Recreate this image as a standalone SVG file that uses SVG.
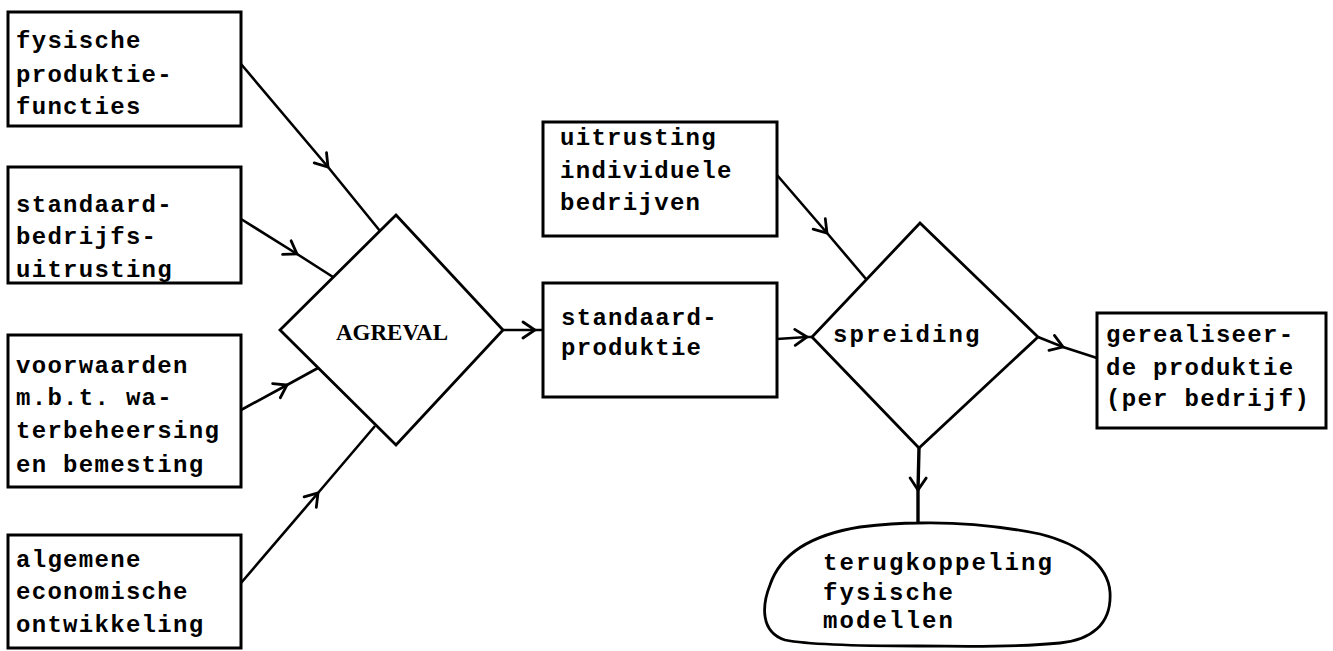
<svg xmlns="http://www.w3.org/2000/svg" width="1333" height="651" viewBox="0 0 1333 651">
<defs>
<style>
.box{fill:#fff;stroke:#000;stroke-width:3}
.shape{fill:#fff;stroke:#000;stroke-width:2.8;stroke-linejoin:miter}
.t{font-family:"Liberation Mono","Courier New",monospace;font-size:24px;font-weight:bold;letter-spacing:1.3px;fill:#000}
.tb{font-family:"Liberation Mono","Courier New",monospace;font-size:24px;font-weight:bold;letter-spacing:2.1px;fill:#000}
.serif{font-family:"Liberation Serif","Times New Roman",serif;font-size:23px;font-weight:bold;fill:#000}
.conn{fill:none;stroke:#000;stroke-width:2.6;marker-mid:url(#arr)}
</style>
<marker id="arr" viewBox="-15 -10 17 20" refX="0" refY="0" markerWidth="17" markerHeight="20" markerUnits="userSpaceOnUse" orient="auto">
<path d="M -12 -8 L 0 0 L -12 8" fill="none" stroke="#000" stroke-width="2.8" stroke-linecap="round"/>
</marker>
</defs>
<rect width="1333" height="651" fill="#fff"/>

<g id="connectors">
<polyline class="conn" points="241,64 328,167 380,231"/>
<polyline class="conn" points="241,219 297,254 333,277"/>
<polyline class="conn" points="241,410 287,385 318,368"/>
<polyline class="conn" points="241,583 318,493 375,426"/>
<polyline class="conn" points="503,330 535,330 543,330"/>
<polyline class="conn" points="777,175 827,233 866,279"/>
<polyline class="conn" points="777,339 807,337 812,337"/>
<polyline class="conn" points="1038,337 1063,347 1097,358"/>
<polyline class="conn" style="stroke-width:3.4" points="919,448 918,490 918,523"/>
</g>

<g id="fysische-produktiefuncties">
<rect class="box" x="8" y="12" width="233" height="114"/>
<text class="t" x="16" y="48">fysische</text>
<text class="t" x="16" y="82">produktie-</text>
<text class="t" x="16" y="114">functies</text>
</g>

<g id="standaard-bedrijfsuitrusting">
<rect class="box" x="8" y="167" width="233" height="116"/>
<text class="t" x="16" y="212">standaard-</text>
<text class="t" x="16" y="244">bedrijfs-</text>
<text class="t" x="16" y="277">uitrusting</text>
</g>

<g id="voorwaarden">
<rect class="box" x="8" y="335" width="233" height="152"/>
<text class="t" x="16" y="373">voorwaarden</text>
<text class="t" x="16" y="405">m.b.t. wa-</text>
<text class="t" x="16" y="438">terbeheersing</text>
<text class="t" x="16" y="472">en bemesting</text>
</g>

<g id="algemene-economische-ontwikkeling">
<rect class="box" x="8" y="535" width="233" height="113"/>
<text class="t" x="16" y="567">algemene</text>
<text class="t" x="16" y="599">economische</text>
<text class="t" x="16" y="632">ontwikkeling</text>
</g>

<g id="agreval">
<polygon class="shape" points="396,215 503,330 396,445 280,330"/>
<text class="serif" x="336" y="340">AGREVAL</text>
</g>

<g id="uitrusting-individuele-bedrijven">
<rect class="box" x="543" y="122" width="234" height="114"/>
<text class="t" x="560" y="145">uitrusting</text>
<text class="t" x="560" y="178">individuele</text>
<text class="t" x="560" y="210">bedrijven</text>
</g>

<g id="standaard-produktie">
<rect class="box" x="543" y="283" width="234" height="114"/>
<text class="t" x="561" y="325">standaard-</text>
<text class="t" x="561" y="355">produktie</text>
</g>

<g id="spreiding">
<polygon class="shape" points="920,223 1038,337 919,448 812,337"/>
<text class="tb" x="833" y="342">spreiding</text>
</g>

<g id="gerealiseerde-produktie">
<rect class="box" x="1097" y="313" width="229" height="115"/>
<text class="t" x="1106" y="342">gerealiseer-</text>
<text class="t" x="1106" y="375">de produktie</text>
<text class="t" x="1106" y="406">(per bedrijf)</text>
</g>

<g id="terugkoppeling">
<path class="shape" d="M 918 523 C 960 522 1000 526 1040 534 C 1080 544 1108 565 1110 592 C 1112 625 1090 640 1060 643 C 1010 648 960 646 918 646 C 860 646 810 645 785 640 C 760 632 762 605 770 585 C 780 555 810 535 860 527 C 885 524 905 523 918 523 Z"/>
<text class="tb" x="823" y="570">terugkoppeling</text>
<text class="tb" x="823" y="600">fysische</text>
<text class="tb" x="823" y="628">modellen</text>
</g>
</svg>
